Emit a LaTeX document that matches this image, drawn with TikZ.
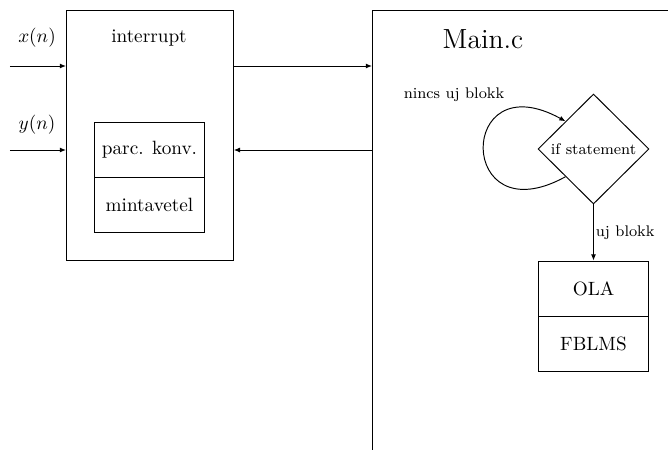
\documentclass[tikz,border=0pt]{standalone}
\usetikzlibrary{shapes.geometric,calc,arrows.meta}
\begin{document}
\begin{tikzpicture}[x=0.52pt,y=-0.52pt,line width=0.5pt,
  >={Latex[length=3.2pt,width=2.6pt]},
  block/.style={draw,minimum width=57.7pt,minimum height=28.6pt,inner sep=0pt},
  cond/.style={draw,diamond,aspect=1,minimum width=57.7pt,minimum height=57.2pt,inner sep=0pt,font=\footnotesize},
  small/.style={font=\footnotesize,inner sep=1pt}]
\useasboundingbox (0,0) rectangle (668,450);
\clip (0,0) rectangle (668,450);

% outer frames
\node[draw,minimum width=86.8pt,minimum height=130pt,anchor=north west,inner sep=0pt] (intr) at (66,10) {};
\node[draw,minimum width=170pt,minimum height=245pt,anchor=north west,inner sep=0pt] (main) at (372,10) {};
\node (intrlabel) at (149,38) {interrupt};
\node (mainlabel) at (483,39) {\Large Main.c};

% interrupt internals
\node[block] (parc) at (149.5,149.5) {parc. konv.};
\node[block] (mint) at (149.5,204.5) {mintavetel};

% main program internals
\node[cond] (ifst) at (593.5,149) {if statement};
\node[block] (ola) at (593.5,288.5) {OLA};
\node[block] (fblms) at (593.5,343.5) {FBLMS};

% inputs
\coordinate (xs) at (10,66);
\coordinate (ys) at (10,150);
\node (xlab) at (37,38) {$x(n)$};
\node (ylab) at (37,125) {$y(n)$};
\draw[->] (xs) -- (xs -| intr.west);
\draw[->] (ys) -- (ys -| intr.west);

% data exchange between interrupt and main
\draw[->] (xs -| intr.east) -- (xs -| main.west);
\draw[->] (ys -| main.west) -- (ys -| intr.east);

% waiting loop on the condition
\coordinate (lo) at ($(ifst.west)!0.5!(ifst.south)$);
\coordinate (hi) at ($(ifst.west)!0.5!(ifst.north)$);
\draw[->] (lo) .. controls +(-109,60) and +(-109,-60) .. (hi);
\node[small] (nincs) at (454,95) {nincs uj blokk};

% new block goes to processing
\draw[->] (ifst.south) -- (ola.north);
\node[small,anchor=west] (uj) at (593.5,233) {uj blokk};
\end{tikzpicture}
\end{document}
